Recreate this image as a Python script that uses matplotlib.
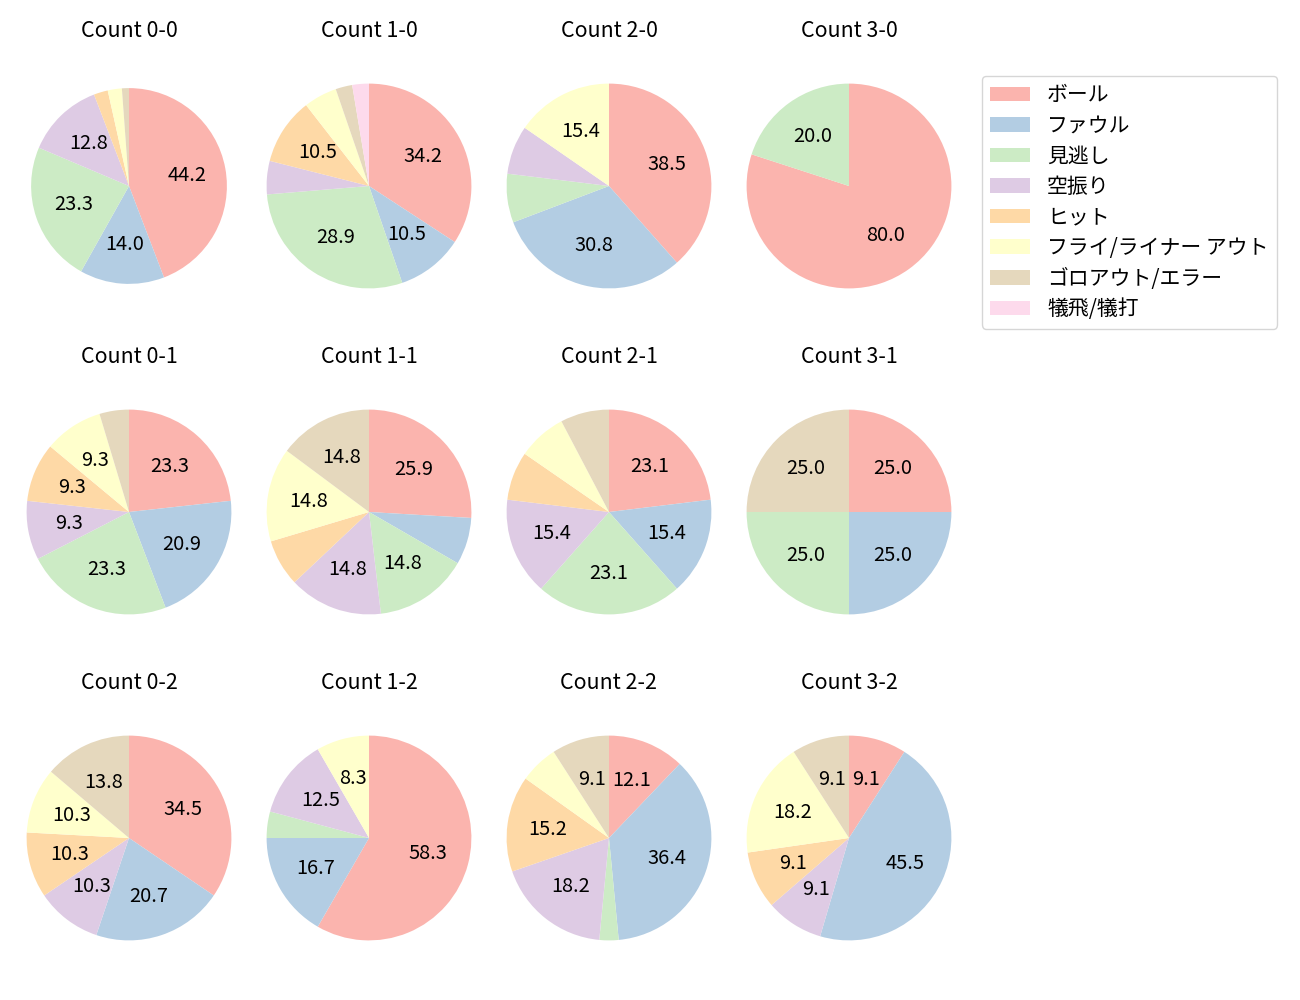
"""カウント別 投球結果の円グラフ"""

import matplotlib
matplotlib.use('Agg')
from matplotlib import pyplot as plt
from matplotlib.patches import Patch

plt.rcParams['font.family'] = ['Noto Sans CJK JP', 'DejaVu Sans']
plt.rcParams['font.size'] = 14.4

categories = ['ボール', 'ファウル', '見逃し', '空振り', 'ヒット',
              'フライ/ライナー アウト', 'ゴロアウト/エラー', '犠飛/犠打']
colors = ['#fbb4ae', '#b3cde3', '#ccebc5', '#decbe4',
          '#fed9a6', '#ffffcc', '#e5d8bd', '#fddaec']

# 各カウントの球数（カテゴリ順）
c00 = [38, 12, 20, 11, 2, 2, 1, 0]
c10 = [13, 4, 11, 2, 4, 2, 1, 1]
c20 = [5, 4, 1, 1, 0, 2, 0, 0]
c30 = [4, 0, 1, 0, 0, 0, 0, 0]
c01 = [10, 9, 10, 4, 4, 4, 2, 0]
c11 = [7, 2, 4, 4, 2, 4, 4, 0]
c21 = [3, 2, 3, 2, 1, 1, 1, 0]
c31 = [1, 1, 1, 0, 0, 0, 1, 0]
c02 = [10, 6, 0, 3, 3, 3, 4, 0]
c12 = [14, 4, 1, 3, 0, 2, 0, 0]
c22 = [4, 12, 1, 6, 5, 2, 3, 0]
c32 = [1, 5, 0, 1, 1, 2, 1, 0]

titles = ['Count 0-0', 'Count 1-0', 'Count 2-0', 'Count 3-0',
          'Count 0-1', 'Count 1-1', 'Count 2-1', 'Count 3-1',
          'Count 0-2', 'Count 1-2', 'Count 2-2', 'Count 3-2']
values = [c00, c10, c20, c30, c01, c11, c21, c31, c02, c12, c22, c32]

W, H = 1300, 1000
fig = plt.figure(figsize=(13, 10), dpi=100)

col_x = [129, 369, 609, 849]
row_y = [186, 512, 838]
side = 256

for i, (title, vals) in enumerate(zip(titles, values)):
    cx = col_x[i % 4]
    cy = row_y[i // 4]
    ax = fig.add_axes([(cx - side / 2) / W, 1 - (cy + side / 2) / H, side / W, side / H])
    r = 0.956 if i == 0 else 1.0
    ax.pie(vals, colors=colors, startangle=90, counterclock=False, radius=r,
           autopct=lambda p: f'{p:.1f}' if p > 8 else '', pctdistance=0.6)
    ax.set_title(title, pad=15, fontsize=15.4)

handles = [Patch(facecolor=c, label=l) for c, l in zip(colors, categories)]
fig.legend(handles=handles, loc='upper left', bbox_to_anchor=(982 / W, 1 - 76 / H),
           borderaxespad=0, fontsize=15, handlelength=1.92, labelspacing=0.41)

plt.savefig('out.png', dpi=100)
